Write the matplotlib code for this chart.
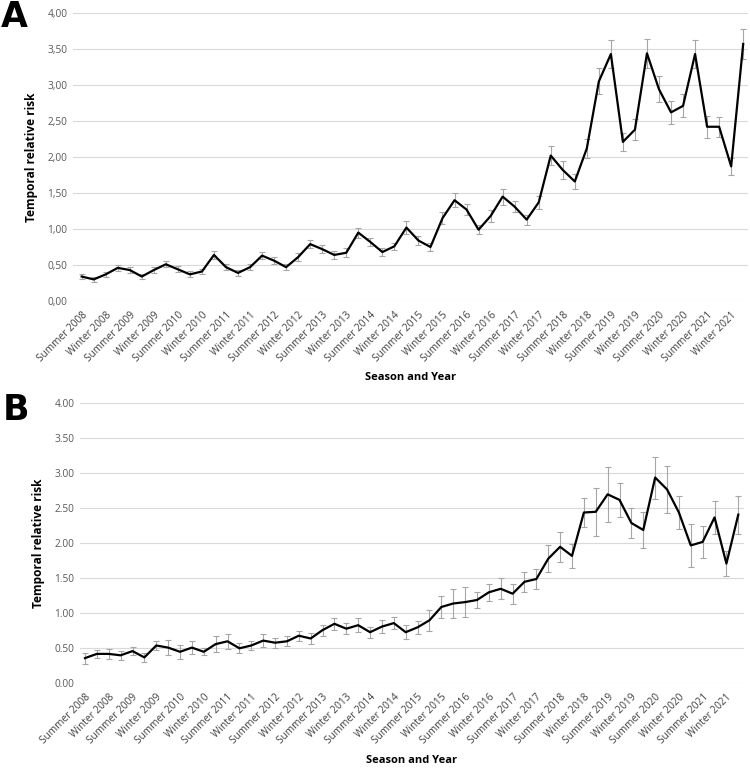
import numpy as np
import matplotlib
matplotlib.use('Agg')
import matplotlib.pyplot as plt

# tick labels (every other season is labelled)
tick_labels = []
for yr in range(2008, 2022):
    tick_labels += ['Summer %d' % yr, 'Winter %d' % yr]

# panel A
rr_a = [0.34, 0.30, 0.37, 0.46, 0.43, 0.34, 0.43, 0.51, 0.44, 0.37,
        0.41, 0.64, 0.47, 0.39, 0.47, 0.63, 0.56, 0.47, 0.61, 0.79,
        0.72, 0.64, 0.67, 0.95, 0.82, 0.68, 0.76, 1.02, 0.84, 0.75,
        1.15, 1.40, 1.27, 0.99, 1.18, 1.45, 1.31, 1.13, 1.37, 2.02,
        1.82, 1.66, 2.12, 3.05, 3.43, 2.21, 2.38, 3.44, 2.94, 2.62,
        2.71, 3.43, 2.42, 2.42, 1.87, 3.57]
err_a = [0.04, 0.03, 0.03, 0.04, 0.04, 0.03, 0.04, 0.04, 0.04, 0.04,
         0.04, 0.05, 0.04, 0.04, 0.04, 0.05, 0.05, 0.04, 0.05, 0.06,
         0.06, 0.05, 0.06, 0.07, 0.06, 0.05, 0.05, 0.09, 0.06, 0.05,
         0.08, 0.10, 0.08, 0.06, 0.08, 0.11, 0.08, 0.07, 0.09, 0.13,
         0.12, 0.10, 0.13, 0.18, 0.20, 0.13, 0.15, 0.20, 0.18, 0.16,
         0.16, 0.20, 0.15, 0.14, 0.12, 0.21]

# panel B
rr_b = [0.36, 0.42, 0.42, 0.40, 0.46, 0.37, 0.54, 0.51, 0.45, 0.51,
        0.45, 0.56, 0.60, 0.50, 0.54, 0.61, 0.58, 0.60, 0.68, 0.64,
        0.76, 0.85, 0.78, 0.83, 0.73, 0.81, 0.86, 0.73, 0.80, 0.90,
        1.09, 1.14, 1.16, 1.19, 1.30, 1.35, 1.28, 1.45, 1.49, 1.78,
        1.95, 1.82, 2.44, 2.45, 2.70, 2.62, 2.29, 2.19, 2.94, 2.77,
        2.44, 1.97, 2.02, 2.37, 1.71, 2.41]
err_b = [0.08, 0.06, 0.07, 0.06, 0.06, 0.06, 0.06, 0.11, 0.10, 0.09,
         0.05, 0.11, 0.11, 0.07, 0.07, 0.09, 0.07, 0.07, 0.07, 0.08,
         0.08, 0.09, 0.08, 0.10, 0.08, 0.09, 0.09, 0.10, 0.09, 0.15,
         0.16, 0.21, 0.21, 0.11, 0.12, 0.15, 0.14, 0.14, 0.14, 0.19,
         0.21, 0.17, 0.21, 0.34, 0.39, 0.24, 0.21, 0.26, 0.30, 0.33,
         0.24, 0.31, 0.23, 0.23, 0.18, 0.27]

yticks = [0, 0.5, 1, 1.5, 2, 2.5, 3, 3.5, 4]

plt.rcParams['font.family'] = ['Open Sans', 'DejaVu Sans']

fig = plt.figure(figsize=(7.5, 7.71), dpi=100)
H = 771.0
W = 750.0


def panel(rect, vals, errs, dec, xlim, letter, letter_pos):
    l, t, r, b = rect
    ax = fig.add_axes([l / W, 1 - b / H, (r - l) / W, (b - t) / H])
    x = np.arange(len(vals))
    ax.errorbar(x, vals, yerr=errs, fmt='none', ecolor='#a6a6a6',
                elinewidth=0.8, capsize=2.2, capthick=0.8, zorder=2)
    ax.plot(x, vals, color='black', lw=1.6, zorder=3)
    ax.set_ylim(0, 4)
    ax.set_xlim(*xlim)
    ax.set_yticks(yticks)
    ax.set_yticklabels([('%.2f' % v).replace('.', dec) for v in yticks],
                       fontsize=7.3, color='#595959')
    ax.set_xticks(x[::2])
    ax.set_xticklabels(tick_labels, rotation=45, ha='right',
                       rotation_mode='anchor', fontsize=7.3, color='#404040')
    ax.tick_params(length=0, pad=6)
    ax.tick_params(axis='y', pad=4)
    ax.grid(axis='y', color='#d9d9d9', lw=0.8)
    ax.set_axisbelow(True)
    for s in ax.spines.values():
        s.set_visible(False)
    ax.set_ylabel('Temporal relative risk', fontsize=8.6, fontweight='bold',
                  labelpad=7)
    ax.set_xlabel('Season and Year', fontsize=8, fontweight='bold',
                  labelpad=6)
    fig.text(letter_pos[0] / W, 1 - letter_pos[1] / H, letter,
             fontsize=25, fontweight='bold', ha='left', va='top',
             family='DejaVu Sans')
    return ax


panel((73, 13, 748, 301), rr_a, err_a, ',', (-0.72, 55.4), 'A', (1, 0))
panel((80, 403.3, 744, 683.3), rr_b, err_b, '.', (-0.42, 55.48), 'B', (3, 393))

fig.savefig('out.png', dpi=100)
